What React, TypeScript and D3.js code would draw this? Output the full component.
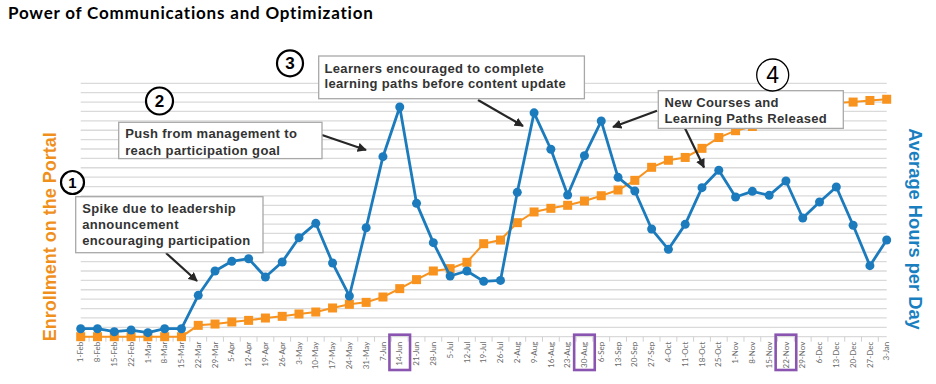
import React from 'react';
import * as d3 from 'd3';

// ---- data ----
const weeks = [
  '1-Feb', '8-Feb', '15-Feb', '22-Feb', '1-Mar', '8-Mar', '15-Mar', '22-Mar', '29-Mar',
  '5-Apr', '12-Apr', '19-Apr', '26-Apr', '3-May', '10-May', '17-May', '24-May', '31-May',
  '7-Jun', '14-Jun', '21-Jun', '28-Jun', '5-Jul', '12-Jul', '19-Jul', '26-Jul',
  '2-Aug', '9-Aug', '16-Aug', '23-Aug', '30-Aug', '6-Sep', '13-Sep', '20-Sep', '27-Sep',
  '4-Oct', '11-Oct', '18-Oct', '25-Oct', '1-Nov', '8-Nov', '15-Nov', '22-Nov', '29-Nov',
  '6-Dec', '13-Dec', '20-Dec', '27-Dec', '3-Jan',
];

// Enrollment on the Portal (left axis)
const enrollment = [
  0, 0, 0, 0, 0, 0, 0, 121, 135,
  157, 174, 199, 217, 242, 263, 306, 345, 366,
  423, 512, 608, 700, 725, 793, 991, 1030,
  1215, 1329, 1368, 1400, 1446, 1502, 1563, 1666, 1805,
  1880, 1910, 2007, 2122, 2195, 2240, 2300, 2360, 2420,
  2460, 2490, 2500, 2517, 2530,
];

// Average Hours per Day (right axis)
const hours = [
  0.085, 0.085, 0.053, 0.071, 0.043, 0.085, 0.085, 0.441, 0.700,
  0.803, 0.831, 0.636, 0.796, 1.055, 1.208, 0.785, 0.434, 1.161,
  1.918, 2.447, 1.421, 1.002, 0.647, 0.700, 0.590, 0.600,
  1.538, 2.385, 1.997, 1.510, 1.929, 2.298, 1.698, 1.552, 1.147,
  0.931, 1.197, 1.588, 1.773, 1.489, 1.549, 1.506, 1.659, 1.265,
  1.435, 1.595, 1.187, 0.757, 1.030,
];

const highlightedWeeks = ['14-Jun', '30-Aug', '22-Nov'];

const title = 'Power of Communications and Optimization';
const leftTitle = 'Enrollment on the Portal';
const rightTitle = 'Average Hours per Day';

const notes = [
  { num: '1', lines: ['Spike due to leadership', 'announcement', 'encouraging participation'] },
  { num: '2', lines: ['Push from management to', 'reach participation goal'] },
  { num: '3', lines: ['Learners encouraged to complete', 'learning paths before content update'] },
  { num: '4', lines: ['New Courses and', 'Learning Paths Released'] },
];

// ---- layout (not data) ----
const W = 936;
const H = 384;
const plot = { left: 80.7, right: 886.7, top: 83.3, bottom: 336.7 };
const ORANGE = '#f7931e';
const BLUE = '#1b7bbd';

const boxLayout = [
  { x: 75.7, y: 196.7, w: 187.3, h: 56, tx: 82.2, ty: 208.5, lh: 16 },
  { x: 118.7, y: 122.3, w: 203.3, h: 36.3, tx: 125.2, ty: 133.5, lh: 16.5 },
  { x: 318.7, y: 56, w: 265.7, h: 42.7, tx: 324.5, ty: 68.5, lh: 15 },
  { x: 658.3, y: 90.7, w: 185, h: 37.7, tx: 664.5, ty: 102.5, lh: 16 },
];
const circleLayout = [
  { cx: 72.5, cy: 182.5, r: 11.5, sw: 2.2, fs: 15, fw: 700 },
  { cx: 159.5, cy: 101, r: 13.5, sw: 2.2, fs: 17, fw: 700 },
  { cx: 290, cy: 63.3, r: 13, sw: 2.2, fs: 17, fw: 700 },
  { cx: 772.7, cy: 75, r: 16, sw: 1.3, fs: 23, fw: 400 },
];
const arrows = [
  [166, 253, 197, 281],
  [322, 135, 366, 150],
  [478, 100, 523, 126],
  [657, 110.7, 613, 127],
  [685, 128.3, 704, 167.5],
];

export default function App() {
  const x = d3.scalePoint<string>().domain(weeks).range([plot.left, plot.right]);
  const yL = d3.scaleLinear().domain([0, 2700]).range([plot.bottom, plot.top]);
  const yR = d3.scaleLinear().domain([0, 2.7]).range([plot.bottom, plot.top]);
  const gridTicks = d3.range(0, 2.7001, 0.1);

  const lineL = d3.line<number>().x((_, i) => x(weeks[i])!).y((d) => yL(d));
  const lineR = d3.line<number>().x((_, i) => x(weeks[i])!).y((d) => yR(d));
  const step = x.step();

  return (
    <svg
      width={W}
      height={H}
      style={{ position: 'fixed', left: 0, top: 0, background: '#fff' }}
      fontFamily="'Liberation Sans', Arial, sans-serif"
    >
      <defs>
        <marker id="ah" viewBox="0 0 10 10" refX="9" refY="5" markerWidth="4.2" markerHeight="4.2" orient="auto">
          <path d="M0,0 L10,5 L0,10 z" fill="#262626" />
        </marker>
      </defs>
      <rect width={W} height={H} fill="#fff" />
      <text x={8} y={18.5} fontFamily="Lato, sans-serif" fontWeight={700} fontSize={17} letterSpacing={0.8} fill="#000">
        {title}
      </text>

      {/* gridlines */}
      {gridTicks.map((t, i) => (
        <line key={i} x1={plot.left} x2={plot.right} y1={yR(t)} y2={yR(t)} stroke="#dadada" strokeWidth={1.3} />
      ))}
      {/* axis ticks */}
      {weeks.slice(0, -1).map((w) => (
        <line key={w} x1={x(w)! + step / 2} x2={x(w)! + step / 2} y1={plot.bottom} y2={plot.bottom + 5} stroke="#d0d0d0" strokeWidth={1} />
      ))}
      {/* x labels */}
      {weeks.map((w) => (
        <text
          key={w}
          transform={`translate(${x(w)},${plot.bottom + 5}) rotate(-90)`}
          textAnchor="end"
          dy="0.33em"
          fontFamily="Lato, sans-serif"
          fontSize={8}
          fill="#6b6b6b"
        >
          {w}
        </text>
      ))}
      {/* highlighted weeks */}
      {highlightedWeeks.map((w) => (
        <rect key={w} x={x(w)! - 10.3} y={plot.bottom - 2} width={20.6} height={35.3} fill="none" stroke="#8a55b0" strokeWidth={2.6} />
      ))}

      {/* enrollment */}
      <path d={lineL(enrollment)!} fill="none" stroke={ORANGE} strokeWidth={2} />
      {enrollment.map((d, i) => (
        <rect key={i} x={x(weeks[i])! - 4.5} y={yL(d) - 4.5} width={9} height={9} fill={ORANGE} />
      ))}

      {/* hours */}
      <path d={lineR(hours)!} fill="none" stroke={BLUE} strokeWidth={2.8} strokeLinejoin="round" />
      {hours.map((d, i) => (
        <circle key={i} cx={x(weeks[i])!} cy={yR(d)} r={4.5} fill={BLUE} />
      ))}

      {/* axis titles */}
      <text
        transform={`translate(50,236.7) rotate(-90)`}
        textAnchor="middle"
        dy="0.35em"
        fontWeight={700}
        fontSize={18}
        fill="#f0901c"
      >
        {leftTitle}
      </text>
      <text
        transform={`translate(915,229) rotate(90)`}
        textAnchor="middle"
        dy="0.35em"
        fontWeight={700}
        fontSize={18.3}
        fill="#1a7fc0"
      >
        {rightTitle}
      </text>

      {/* annotations */}
      {arrows.map(([x1, y1, x2, y2], i) => (
        <line key={i} x1={x1} y1={y1} x2={x2} y2={y2} stroke="#262626" strokeWidth={2.2} markerEnd="url(#ah)" />
      ))}
      {notes.map((n, i) => {
        const b = boxLayout[i];
        const c = circleLayout[i];
        return (
          <g key={n.num}>
            <rect x={b.x} y={b.y} width={b.w} height={b.h} fill="#fff" stroke="#a8a8a8" strokeWidth={1.3} />
            {n.lines.map((l, j) => (
              <text key={j} x={b.tx} y={b.ty + j * b.lh} dy="0.35em" fontWeight={700} fontSize={13} letterSpacing={0.35} fill="#333">
                {l}
              </text>
            ))}
            <circle cx={c.cx} cy={c.cy} r={c.r} fill="#fff" stroke="#000" strokeWidth={c.sw} />
            <text x={c.cx} y={c.cy} textAnchor="middle" dy="0.36em" fontWeight={c.fw} fontSize={c.fs} fill="#000">
              {n.num}
            </text>
          </g>
        );
      })}
    </svg>
  );
}
